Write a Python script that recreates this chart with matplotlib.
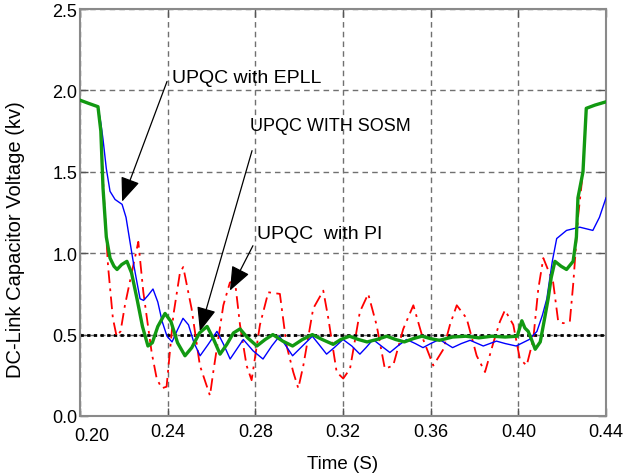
import matplotlib
matplotlib.use("Agg")
import matplotlib.pyplot as plt
import matplotlib.transforms as mtransforms
from matplotlib.ticker import FormatStrFormatter
import numpy as np

plt.rcParams['font.family'] = ['Liberation Sans', 'DejaVu Sans']

# DC-link voltage traces (time in s, voltage in kV)
t_sosm = [0.2000, 0.2040, 0.2082, 0.2095, 0.2105, 0.2120, 0.2137, 0.2155, 0.2169, 0.2190,
          0.2214, 0.2235, 0.2260, 0.2285, 0.2310, 0.2330, 0.2355, 0.2388, 0.2415, 0.2445,
          0.2479, 0.2510, 0.2545, 0.2580, 0.2610, 0.2639, 0.2670, 0.2700, 0.2730, 0.2765,
          0.2807, 0.2845, 0.2880, 0.2925, 0.2970, 0.3015, 0.3060, 0.3105, 0.3155, 0.3190,
          0.3230, 0.3270, 0.3310, 0.3355, 0.3400, 0.3440, 0.3480, 0.3520, 0.3560, 0.3600,
          0.3640, 0.3700, 0.3760, 0.3820, 0.3880, 0.3940, 0.3995, 0.4016, 0.4030, 0.4045,
          0.4060, 0.4077, 0.4100, 0.4120, 0.4136, 0.4150, 0.4167, 0.4195, 0.4220, 0.4250,
          0.4265, 0.4272, 0.4295, 0.4310, 0.4350, 0.4400]
v_sosm = [1.94, 1.92, 1.90, 1.75, 1.40, 1.10, 0.97, 0.92, 0.90, 0.93,
          0.95, 0.88, 0.72, 0.55, 0.43, 0.45, 0.55, 0.63, 0.58, 0.45,
          0.37, 0.42, 0.51, 0.55, 0.47, 0.38, 0.44, 0.51, 0.535, 0.48,
          0.43, 0.47, 0.50, 0.46, 0.43, 0.47, 0.50, 0.47, 0.44, 0.47,
          0.49, 0.47, 0.455, 0.47, 0.49, 0.47, 0.455, 0.475, 0.49, 0.475,
          0.465, 0.485, 0.49, 0.48, 0.49, 0.485, 0.49, 0.585, 0.54, 0.52,
          0.47, 0.41, 0.455, 0.60, 0.72, 0.85, 0.95, 0.92, 0.90, 0.95,
          1.10, 1.34, 1.50, 1.89, 1.91, 1.93]

t_epll = [0.2000, 0.2082, 0.2095, 0.2105, 0.2120, 0.2137, 0.2160, 0.2192, 0.2210, 0.2228,
          0.2245, 0.2260, 0.2274, 0.2290, 0.2310, 0.2333, 0.2355, 0.2375, 0.2397, 0.2420,
          0.2445, 0.2470, 0.2495, 0.2520, 0.2548, 0.2585, 0.2625, 0.2655, 0.2685, 0.2715,
          0.2745, 0.2790, 0.2835, 0.2875, 0.2910, 0.2940, 0.2970, 0.3015, 0.3060, 0.3090,
          0.3125, 0.3160, 0.3200, 0.3240, 0.3277, 0.3305, 0.3337, 0.3375, 0.3414, 0.3450,
          0.3490, 0.3530, 0.3565, 0.3600, 0.3640, 0.3670, 0.3700, 0.3740, 0.3780, 0.3840,
          0.3900, 0.3940, 0.3990, 0.4050, 0.4085, 0.4110, 0.4130, 0.4155, 0.4175, 0.4220,
          0.4280, 0.4340, 0.4370, 0.4400]
v_epll = [1.94, 1.90, 1.80, 1.70, 1.52, 1.38, 1.33, 1.30, 1.22, 1.07,
          0.93, 0.82, 0.72, 0.71, 0.74, 0.78, 0.70, 0.58, 0.49, 0.455,
          0.53, 0.60, 0.56, 0.45, 0.37, 0.44, 0.52, 0.44, 0.35, 0.41,
          0.47, 0.40, 0.35, 0.43, 0.49, 0.43, 0.37, 0.43, 0.49, 0.44,
          0.38, 0.42, 0.47, 0.43, 0.38, 0.42, 0.47, 0.43, 0.39, 0.43,
          0.47, 0.445, 0.42, 0.445, 0.47, 0.445, 0.42, 0.445, 0.465, 0.43,
          0.46, 0.445, 0.43, 0.47, 0.52, 0.62, 0.72, 0.95, 1.09, 1.14,
          1.16, 1.14, 1.22, 1.34]

t_pi = [0.2000, 0.2082, 0.2095, 0.2105, 0.2120, 0.2128, 0.2150, 0.2167, 0.2185, 0.2205,
        0.2236, 0.2266, 0.2289, 0.2327, 0.2350, 0.2373, 0.2395, 0.2426, 0.2456, 0.2471,
        0.2509, 0.2547, 0.2593, 0.2608, 0.2654, 0.2684, 0.2707, 0.2730, 0.2760, 0.2783,
        0.2821, 0.2859, 0.2912, 0.2943, 0.2973, 0.2996, 0.3019, 0.3064, 0.3110, 0.3133,
        0.3171, 0.3201, 0.3232, 0.3277, 0.3315, 0.3353, 0.3391, 0.3429, 0.3475, 0.3521,
        0.3566, 0.3612, 0.3658, 0.3688, 0.3719, 0.3764, 0.3810, 0.3848, 0.3886, 0.3916,
        0.3939, 0.3977, 0.4007, 0.4038, 0.4068, 0.4091, 0.4114, 0.4159, 0.4182, 0.4205,
        0.4235, 0.4251, 0.4273, 0.4295, 0.4310, 0.4350, 0.4400]
v_pi = [1.94, 1.90, 1.75, 1.45, 1.10, 0.92, 0.60, 0.49, 0.52, 0.68,
        0.88, 1.07, 0.76, 0.39, 0.23, 0.17, 0.18, 0.62, 0.88, 0.915,
        0.66, 0.31, 0.125, 0.27, 0.68, 0.82, 0.83, 0.56, 0.31, 0.22,
        0.56, 0.76, 0.75, 0.43, 0.27, 0.17, 0.31, 0.66, 0.77, 0.60,
        0.27, 0.23, 0.29, 0.64, 0.75, 0.56, 0.29, 0.31, 0.535, 0.68,
        0.47, 0.31, 0.41, 0.56, 0.68, 0.60, 0.37, 0.27, 0.45, 0.58,
        0.65, 0.56, 0.35, 0.31, 0.47, 0.78, 0.97, 0.82, 0.58, 0.57,
        0.58, 0.82, 1.23, 1.50, 1.89, 1.91, 1.93]

v_ref = 0.5
x_ticks = [0.20, 0.24, 0.28, 0.32, 0.36, 0.40, 0.44]
y_ticks = [0.0, 0.5, 1.0, 1.5, 2.0, 2.5]

fig = plt.figure(figsize=(6.27, 4.77), dpi=100)
ax = fig.add_axes([0.1276, 0.1258, 0.8389, 0.8532])

ax.plot(t_pi, v_pi, color='red', lw=1.3, ls=(0, (7, 3, 1.5, 3)), zorder=3)
ax.plot(t_epll, v_epll, color='blue', lw=1.0, zorder=4)
ax.plot(t_sosm, v_sosm, color='#129912', lw=2.4, zorder=5)
ax.axhline(v_ref, color='black', lw=2.0, ls=(0, (1.2, 1.2)), zorder=2)

ax.set_xlim(0.20, 0.44)
ax.set_ylim(0.0, 2.5)
ax.set_xticks(x_ticks)
ax.set_yticks(y_ticks)
ax.xaxis.set_major_formatter(FormatStrFormatter('%.2f'))
ax.yaxis.set_major_formatter(FormatStrFormatter('%.1f'))
ax.tick_params(direction='in', length=6, width=1, color='#555555',
               top=True, right=True, labelsize=13, pad=2)
ax.tick_params(axis='x', pad=5)
ax.grid(True, color='#707070', ls=(0, (4, 3)), lw=1.0)
for s in ax.spines.values():
    s.set_color('#8a8a8a')
    s.set_linewidth(1.5)

# first time label sits a bit right of and below its tick
first = ax.get_xticklabels()[0]
first.set_transform(first.get_transform() +
                    mtransforms.ScaledTranslation(12 / 100, -4 / 100, fig.dpi_scale_trans))

ax.set_xlabel('Time (S)', fontsize=13.5, labelpad=8)
ax.set_ylabel('DC-Link Capacitor Voltage (kv)', fontsize=14.5)
ax.yaxis.set_label_coords(-0.104, 0.435)

# labels with arrows
arrow = dict(arrowstyle='-|>,head_length=0.75,head_width=0.3', color='black',
             lw=0.9, mutation_scale=20, shrinkA=0, shrinkB=0)
ax.text(0.2420, 2.08, 'UPQC with EPLL', fontsize=14, va='center', ha='left')
ax.annotate('', xy=(0.2192, 1.317), xytext=(0.2397, 2.055), arrowprops=arrow)
ax.text(0.2776, 1.785, 'UPQC WITH SOSM', fontsize=13, va='center', ha='left')
ax.annotate('', xy=(0.2547, 0.52), xytext=(0.2785, 1.63), arrowprops=arrow)
ax.text(0.2807, 1.12, 'UPQC  with PI', fontsize=14, va='center', ha='left')
ax.annotate('', xy=(0.2684, 0.77), xytext=(0.2789, 1.046), arrowprops=arrow)

fig.savefig('out.png', dpi=100)
